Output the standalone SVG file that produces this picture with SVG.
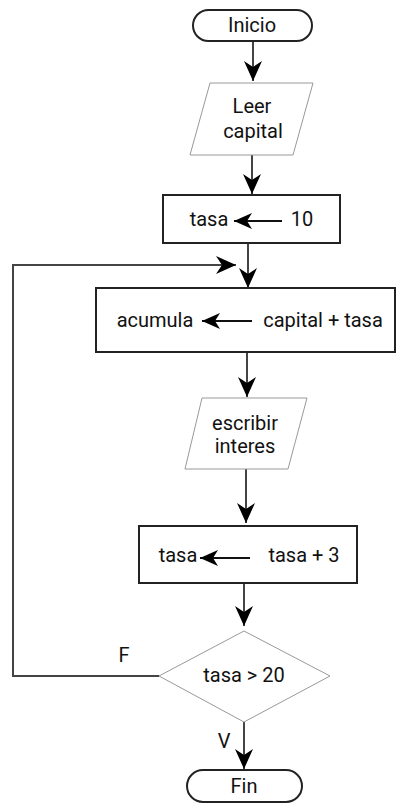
<svg xmlns="http://www.w3.org/2000/svg" width="396" height="804" viewBox="0 0 396 804">
<style>
  .t { font-family: Roboto, "Liberation Sans", Arial, sans-serif; font-size: 20px; fill: #111; text-anchor: middle; }
  .box { fill: #fff; stroke: #222; stroke-width: 2; }
  .io { fill: #fff; stroke: #999; stroke-width: 1; }
  .c { fill: none; stroke: #444; stroke-width: 2; }
  .ci { fill: none; stroke: #111; stroke-width: 2; }
</style>
<defs>
  <marker id="ah" markerUnits="userSpaceOnUse" viewBox="0 0 20 18" refX="20" refY="9" markerWidth="20" markerHeight="18" orient="auto">
    <path d="M20,9 L0,0 L6,9 L0,18 Z" fill="#000"/>
  </marker>
  <marker id="ahs" markerUnits="userSpaceOnUse" viewBox="0 0 18 16" refX="18" refY="8" markerWidth="18" markerHeight="16" orient="auto">
    <path d="M18,8 L0,0 L5,8 L0,16 Z" fill="#000"/>
  </marker>
</defs>
<g id="connectors">
  <line class="c" x1="253" y1="41" x2="253" y2="81" marker-end="url(#ah)"/>
  <line class="c" x1="252" y1="155" x2="252" y2="194" marker-end="url(#ah)"/>
  <line class="c" x1="248" y1="243" x2="248" y2="288" marker-end="url(#ah)"/>
  <polyline class="c" points="159,676 13,676 13,265 236,265" marker-end="url(#ah)"/>
  <line class="c" x1="247" y1="352" x2="247" y2="397" marker-end="url(#ah)"/>
  <line class="c" x1="246" y1="469" x2="246" y2="523" marker-end="url(#ah)"/>
  <line class="c" x1="244" y1="583" x2="244" y2="626" marker-end="url(#ah)"/>
  <line class="c" x1="244" y1="722" x2="244" y2="769" marker-end="url(#ah)"/>
  <text class="t" x="124" y="662">F</text>
  <text class="t" x="224" y="748">V</text>
</g>
<g id="inicio">
  <rect class="box" x="193" y="10" width="119" height="31" rx="15.5"/>
  <text class="t" x="252" y="32">Inicio</text>
</g>
<g id="leer">
  <polygon class="io" points="210,83 313,83 293,155 190,155"/>
  <text class="t" x="252" y="113">Leer</text>
  <text class="t" x="253" y="138">capital</text>
</g>
<g id="tasa10">
  <rect class="box" x="163" y="195" width="177" height="48"/>
  <text class="t" x="209" y="226">tasa</text>
  <line class="ci" x1="282" y1="221" x2="234" y2="221" marker-end="url(#ahs)"/>
  <text class="t" x="302" y="226">10</text>
</g>
<g id="acumula">
  <rect class="box" x="96" y="288" width="299" height="64"/>
  <text class="t" x="155" y="327">acumula</text>
  <line class="ci" x1="252" y1="321" x2="202" y2="321" marker-end="url(#ahs)"/>
  <text class="t" x="323" y="327">capital + tasa</text>
</g>
<g id="escribir">
  <polygon class="io" points="202,398 307,398 288,469 185,469"/>
  <text class="t" x="245" y="430">escribir</text>
  <text class="t" x="245" y="453">interes</text>
</g>
<g id="tasa3">
  <rect class="box" x="139" y="526" width="218" height="57"/>
  <text class="t" x="178" y="562">tasa</text>
  <line class="ci" x1="250" y1="558" x2="200" y2="558" marker-end="url(#ahs)"/>
  <text class="t" x="304" y="562">tasa + 3</text>
</g>
<g id="decision">
  <polygon class="io" points="244,631 330,676 244,722 159,676"/>
  <text class="t" x="244" y="682">tasa &gt; 20</text>
</g>
<g id="fin">
  <rect class="box" x="187" y="770" width="115" height="32" rx="16"/>
  <text class="t" x="244" y="793">Fin</text>
</g>
</svg>
